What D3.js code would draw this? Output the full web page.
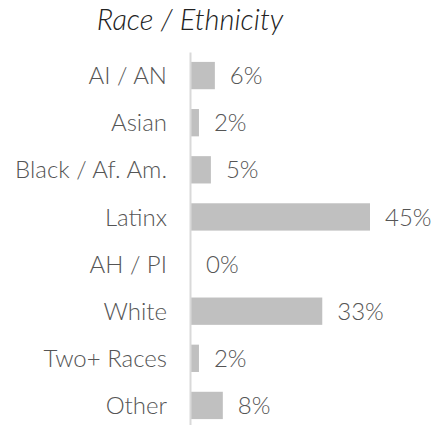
<!DOCTYPE html>
<html>
<head>
<meta charset="utf-8">
<script src="https://cdn.jsdelivr.net/npm/d3@7"></script>
<style>
body{margin:0;background:#fff;}
text{font-family:Lato,"Open Sans",sans-serif;}
.title{font-style:italic;font-weight:300;fill:#222;}
.val{font-weight:300;fill:#555;}
</style>
</head>
<body>
<div id="chart"></div>
<script>
var w = 435;
var h = 425;

var categories = ["AI / AN","Asian","Black / Af. Am.","Latinx","AH / PI","White","Two+ Races","Other"];
var values = [6,2,5,45,0,33,2,8];
var title = "Race / Ethnicity";

var left = 190;
var svg = d3.select("#chart").append("svg")
  .attr("width", w)
  .attr("height", h);

svg.append("text")
  .attr("class","title")
  .attr("x", 190)
  .attr("y", 30)
  .attr("text-anchor","middle")
  .style("font-size","29px")
  .text(title);

var xScale = d3.scaleLinear()
  .domain([0, 45])
  .range([0, 179]);

var yScale = d3.scaleBand()
  .domain(categories)
  .range([52, 429])
  .paddingInner(0.42)
  .paddingOuter(0.21);

// bars
svg.selectAll(".bar")
  .data(values)
  .enter().append("rect")
  .attr("class","bar")
  .attr("x", left + 1)
  .attr("y", function(d,i){ return yScale(categories[i]); })
  .attr("width", function(d){ return xScale(d); })
  .attr("height", yScale.bandwidth())
  .attr("fill","#c0c0c0");

// value labels
svg.selectAll(".val")
  .data(values)
  .enter().append("text")
  .attr("class","val")
  .attr("x", function(d){ return left + 1 + xScale(d) + 15; })
  .attr("y", function(d,i){ return yScale(categories[i]) + yScale.bandwidth()/2; })
  .attr("dy","0.36em")
  .style("font-size","24px")
  .text(function(d){ return d + "%"; });

// axis
var yAxis = svg.append("g")
  .attr("transform","translate(" + left + ",0)")
  .call(d3.axisLeft(yScale).tickSize(0).tickPadding(23));
yAxis.select(".domain").attr("stroke","#d9d9d9").attr("stroke-width",2);
yAxis.selectAll("text")
  .attr("dy","0.36em")
  .style("font-size","24px")
  .style("font-weight","300")
  .style("font-family","Lato, sans-serif")
  .attr("fill","#555");
</script>
</body>
</html>
